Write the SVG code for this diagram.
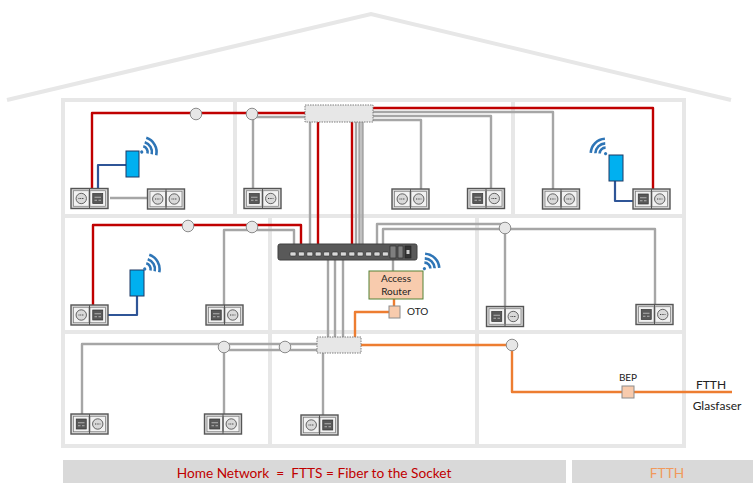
<svg xmlns="http://www.w3.org/2000/svg" width="753" height="483" viewBox="0 0 753 483">
<style>
text{font-family:"Lato","Open Sans","Liberation Sans",sans-serif;fill:#222}
.wall{fill:none;stroke:#e7e7e7;stroke-width:4}
.roof{fill:none;stroke:#e7e7e7;stroke-width:4}
.red,.gr,.or,.bl{fill:none;stroke-linejoin:round}
.red{stroke:#c00000;stroke-width:2.4}
.gr{stroke:#a6a6a6;stroke-width:2.4}
.or{stroke:#ed7d31;stroke-width:2.4}
.bl{stroke:#2f5597;stroke-width:2.2}
.joint{fill:#e7e7e7;stroke:#8c8c8c;stroke-width:1}
.box{fill:#e7e7e7;stroke:#7f7f7f;stroke-width:1;stroke-dasharray:1.5 1}
.dev{fill:#00b0f0;stroke:#1f3864;stroke-width:1}
.sq{fill:#f8cbad;stroke:#8c8c8c;stroke-width:1}
.arc{fill:none;stroke:#2e75b6;stroke-width:2.6}
.sock{fill:#d9d9d9;stroke:#555;stroke-width:1.4}
.in{fill:#f2f2f2;stroke:#777;stroke-width:.7}
.pw{fill:#d9d9d9;stroke:#555;stroke-width:.9}
.da{fill:#595959;stroke:#333;stroke-width:.7}
.t10{font-size:10px}
.t12{font-size:12px}
.foot{font-size:13.700px;text-anchor:middle}
</style>
<defs>
<g id="p"><rect class="in" x="0" y="0" width="15.500" height="15.500"/><circle class="pw" cx="7.750" cy="7.750" r="5.200"/><path d="M5 7.750h5.500" stroke="#444" stroke-width="1.200" stroke-dasharray="1 .7"/></g>
<g id="d"><rect class="in" x="0" y="0" width="15.500" height="15.500"/><rect class="da" x="2.750" y="2.750" width="10" height="10"/><path d="M4.500 6.500h6.500M4.500 9.500h2.500M8.500 9.500h2.500" stroke="#bbb" stroke-width=".9"/></g>
<g id="pd"><rect class="sock" x="0" y="0" width="37" height="20"/><use href="#p" x="2.500" y="2.250"/><use href="#d" x="19" y="2.250"/><path d="M18.500 0v20" stroke="#555" stroke-width="1"/></g>
<g id="dp"><rect class="sock" x="0" y="0" width="37" height="20"/><use href="#d" x="2.500" y="2.250"/><use href="#p" x="19" y="2.250"/><path d="M18.500 0v20" stroke="#555" stroke-width="1"/></g>
<g id="pp"><rect class="sock" x="0" y="0" width="37" height="20"/><use href="#p" x="2.500" y="2.250"/><use href="#p" x="19" y="2.250"/><path d="M18.500 0v20" stroke="#555" stroke-width="1"/></g>
<g id="wifi"><circle cx="0" cy="-2" r="1.600" fill="#2e75b6"/><path class="arc" d="M-4.200-6.200A6 6 0 0 1 4.200-6.200"/><path class="arc" d="M-7-9.500A10.500 10.500 0 0 1 7-9.500"/><path class="arc" d="M-10-13A15 15 0 0 1 10-13"/></g>
<g id="port"><rect x="0" y="0" width="6" height="4" rx="1" fill="#d9d9d9" stroke="#2b2b2b" stroke-width=".6"/></g>
</defs>

<g id="house">
<path class="roof" d="M7 100L371 14L731 100"/>
<rect class="wall" x="63" y="100" width="621" height="346"/>
<path class="wall" d="M63 216H684M63 332H684M235 100V216M513 100V216M270 216V446M477 216V446"/>
<rect x="63" y="460" width="503" height="23" fill="#d9d9d9"/>
<rect x="572" y="460" width="181" height="23" fill="#d9d9d9"/>
</g>

<g id="connectors">
<path class="gr" d="M253 189V114M253 117H305"/>
<path class="gr" d="M110 198H147"/>
<path class="gr" d="M373 112H553V189"/>
<path class="gr" d="M373 116H491V189"/>
<path class="gr" d="M373 120H421V189"/>
<path class="gr" d="M310 122V244M356 122V244M359.500 122V244M362.500 122V244"/>
<path class="red" d="M92 189V113H305"/>
<path class="red" d="M373 108H653V189"/>
<path class="red" d="M318 122V244M352 122V244"/>
<path class="red" d="M93 305V225H301V244"/>
<path class="gr" d="M224 305V230H294V244"/>
<path class="gr" d="M377 246V224H505V306"/>
<path class="gr" d="M383 246V229H655V305"/>
<path class="gr" d="M328 260V337M335 260V337M343 260V337"/>
<path class="gr" d="M393 256V271"/>
<path class="gr" d="M82 414V344H317M224 350H317M224 347V414M323 353V415"/>
<path class="or" d="M394 299V306M389 312H355V337M361 345H512V392H732"/>
<path class="bl" d="M126 165H98V198"/>
<path class="bl" d="M615 181V201H640"/>
<path class="bl" d="M137 296V315H106"/>
</g>

<g id="joints">
<circle class="joint" cx="196" cy="114" r="5.800"/>
<circle class="joint" cx="252" cy="114" r="5.800"/>
<circle class="joint" cx="188" cy="226" r="5.800"/>
<circle class="joint" cx="252" cy="227" r="5.800"/>
<circle class="joint" cx="505" cy="228" r="5.800"/>
<circle class="joint" cx="224" cy="347" r="5.800"/>
<circle class="joint" cx="285" cy="347" r="5.800"/>
<circle class="joint" cx="512" cy="345" r="5.800"/>
</g>

<g id="distributor-top"><rect class="box" x="305" y="105" width="68" height="17"/></g>
<g id="distributor-bottom"><rect class="box" x="317" y="337" width="44" height="16"/></g>

<g id="switch">
<rect x="278" y="244" width="139" height="16" rx="2" fill="#595959" stroke="#404040"/>
<use href="#port" x="290" y="252"/><use href="#port" x="298.400" y="252"/><use href="#port" x="306.800" y="252"/><use href="#port" x="315.200" y="252"/><use href="#port" x="323.600" y="252"/><use href="#port" x="332" y="252"/><use href="#port" x="340.400" y="252"/><use href="#port" x="348.800" y="252"/><use href="#port" x="357.200" y="252"/><use href="#port" x="365.600" y="252"/><use href="#port" x="374" y="252"/><use href="#port" x="382.400" y="252"/>
<rect x="390" y="246" width="6" height="12" fill="#7f7f7f" stroke="#222" stroke-width=".6"/>
<rect x="398" y="246" width="5" height="12" fill="#7f7f7f" stroke="#222" stroke-width=".6"/>
<rect x="405" y="246" width="6" height="12" fill="#333" stroke="#222" stroke-width=".6"/>
<rect x="406.500" y="250" width="3" height="4" fill="#ccc"/>
</g>

<g id="router">
<rect x="369" y="271" width="54" height="28" fill="#f8cbad" stroke="#548235" stroke-width="1"/>
<text class="t10" x="396" y="282" text-anchor="middle">Access</text>
<text class="t10" x="396" y="295" text-anchor="middle">Router</text>
<use href="#wifi" transform="translate(423 270) rotate(45)"/>
</g>

<g id="oto"><rect class="sq" x="389" y="306" width="11" height="12"/><text class="t10" x="407" y="315">OTO</text></g>
<g id="bep"><rect class="sq" x="622" y="386" width="12" height="12"/><text class="t10" x="628" y="381" text-anchor="middle">BEP</text></g>

<g id="ap1"><rect class="dev" x="126" y="151" width="13" height="26"/><use href="#wifi" transform="translate(140 153) rotate(60)"/></g>
<g id="ap2"><rect class="dev" x="609" y="155" width="14" height="26"/><use href="#wifi" transform="translate(607 155) rotate(-45)"/></g>
<g id="ap3"><rect class="dev" x="130" y="270" width="14" height="26"/><use href="#wifi" transform="translate(143 270) rotate(60)"/></g>

<g id="socket-1"><use href="#pd" x="71" y="188.500"/></g>
<g id="socket-2"><use href="#pp" x="147.500" y="189"/></g>
<g id="socket-3"><use href="#dp" x="244" y="188.500"/></g>
<g id="socket-4"><use href="#pp" x="392" y="189"/></g>
<g id="socket-5"><use href="#dp" x="467.500" y="188.500"/></g>
<g id="socket-6"><use href="#pp" x="542.500" y="189"/></g>
<g id="socket-7"><use href="#dp" x="633" y="189"/></g>
<g id="socket-8"><use href="#pd" x="71" y="305"/></g>
<g id="socket-9"><use href="#dp" x="206" y="305"/></g>
<g id="socket-10"><use href="#dp" x="486.500" y="306.500"/></g>
<g id="socket-11"><use href="#dp" x="636" y="304.500"/></g>
<g id="socket-12"><use href="#dp" x="71" y="414"/></g>
<g id="socket-13"><use href="#dp" x="204.500" y="414"/></g>
<g id="socket-14"><use href="#pd" x="301" y="415"/></g>

<g id="labels">
<text class="t12" x="711" y="389" text-anchor="middle">FTTH</text>
<text class="t12" x="717" y="410" text-anchor="middle">Glasfaser</text>
<text class="foot" x="314" y="478" xml:space="preserve" style="fill:#c00000">Home Network  =  FTTS = Fiber to the Socket</text>
<text class="foot" x="667" y="478" style="fill:#f0995c">FTTH</text>
</g>
</svg>
